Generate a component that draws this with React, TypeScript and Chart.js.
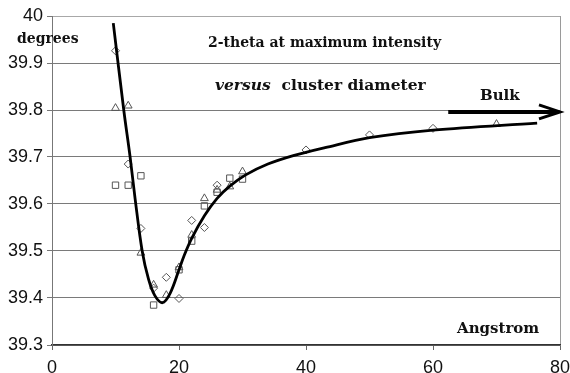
import React, { useEffect, useRef } from "react";
import { Chart, registerables } from "chart.js";

Chart.register(...registerables);

// Fitted curve
const curveX = [9.65, 11.3, 12.3, 13.1, 14.2, 15.2, 16.2, 17.4, 18.6, 20.0, 20.8, 22.0, 24.0, 26.0, 28.0, 30.5, 34.0, 38.0, 43.0, 50, 60, 76.4];
const curveY = [39.985, 39.8, 39.7, 39.61, 39.5, 39.44, 39.405, 39.39, 39.41, 39.46, 39.49, 39.527, 39.575, 39.612, 39.638, 39.662, 39.685, 39.703, 39.72, 39.741, 39.757, 39.772];

// Diamond markers
const diamondX = [10, 12, 14, 16, 18, 20, 22, 24, 26, 40, 50, 60];
const diamondY = [39.926, 39.685, 39.548, 39.421, 39.444, 39.399, 39.565, 39.55, 39.64, 39.715, 39.747, 39.761];

// Triangle markers
const triangleX = [10, 12, 14, 16, 18, 20, 22, 24, 26, 28, 30, 70];
const triangleY = [39.804, 39.809, 39.496, 39.428, 39.406, 39.465, 39.534, 39.612, 39.63, 39.637, 39.669, 39.77];

// Square markers
const squareX = [10, 12, 14, 16, 20, 22, 24, 26, 28, 30];
const squareY = [39.64, 39.64, 39.66, 39.385, 39.46, 39.521, 39.596, 39.625, 39.655, 39.653];

// Bulk arrow (data coordinates)
const bulkArrowX = [62.4, 80.0];
const bulkArrowY = 39.796;

const xTicks = [0, 20, 40, 60, 80];
const yTicks = [39.3, 39.4, 39.5, 39.6, 39.7, 39.8, 39.9, 40];

const toPts = (xs: number[], ys: number[]) => xs.map((x, i) => ({ x, y: ys[i] }));

const arrowPlugin = {
  id: "bulkArrow",
  afterDatasetsDraw(chart: any) {
    const xs = chart.scales.x;
    const ys = chart.scales.y;
    const ctx = chart.ctx;
    const x0 = xs.getPixelForValue(bulkArrowX[0]);
    const x1 = xs.getPixelForValue(bulkArrowX[1]);
    const y = ys.getPixelForValue(bulkArrowY);
    ctx.save();
    ctx.strokeStyle = "#000";
    ctx.lineWidth = 4;
    ctx.beginPath();
    ctx.moveTo(x0, y);
    ctx.lineTo(x1 - 2, y);
    ctx.stroke();
    ctx.lineWidth = 3;
    ctx.lineJoin = "miter";
    ctx.beginPath();
    ctx.moveTo(x1 - 21, y - 7);
    ctx.lineTo(x1, y);
    ctx.lineTo(x1 - 21, y + 7);
    ctx.stroke();
    ctx.restore();
  },
};

const fmt = (v: number) => String(Number(v.toFixed(1)));

export default function App() {
  const ref = useRef<HTMLCanvasElement | null>(null);
  useEffect(() => {
    document.body.style.margin = "0";
    const marker = "#555";
    const chart = new Chart(ref.current as HTMLCanvasElement, {
      type: "scatter",
      data: {
        datasets: [
          {
            data: toPts(curveX, curveY),
            showLine: true,
            borderColor: "#000",
            borderWidth: 2.8,
            pointRadius: 0,
            tension: 0.35,
            fill: false,
          } as any,
          {
            data: toPts(diamondX, diamondY),
            pointStyle: "rectRot",
            pointRadius: 4,
            borderColor: marker,
            backgroundColor: "rgba(0,0,0,0)",
            borderWidth: 1,
          },
          {
            data: toPts(triangleX, triangleY),
            pointStyle: "triangle",
            pointRadius: 4.5,
            borderColor: marker,
            backgroundColor: "rgba(0,0,0,0)",
            borderWidth: 1,
          },
          {
            data: toPts(squareX, squareY),
            pointStyle: "rect",
            pointRadius: 4.5,
            borderColor: marker,
            backgroundColor: "rgba(0,0,0,0)",
            borderWidth: 1,
          },
        ],
      },
      options: {
        animation: false,
        responsive: false,
        events: [],
        layout: { padding: { top: 16, right: 10, left: 0, bottom: 0 } },
        plugins: { legend: { display: false }, tooltip: { enabled: false } },
        scales: {
          x: {
            type: "linear",
            min: 0,
            max: 80,
            afterBuildTicks: (s: any) => {
              s.ticks = xTicks.map((v) => ({ value: v }));
            },
            afterFit: (s: any) => {
              s.height = 28;
              s.paddingLeft = 0;
              s.paddingRight = 0;
            },
            ticks: {
              color: "#111",
              padding: 7,
              font: { family: "Liberation Sans", size: 18 },
              callback: (v: any) => fmt(Number(v)),
            },
            grid: {
              drawOnChartArea: true,
              color: (c: any) => (c.tick && c.tick.value === 80 ? "#9a9a9a" : "rgba(0,0,0,0)"),
              tickColor: "#666",
              tickLength: 5,
              lineWidth: 1,
            },
            border: { color: "#333", width: 1.5 },
          },
          y: {
            type: "linear",
            min: 39.3,
            max: 40,
            afterBuildTicks: (s: any) => {
              s.ticks = yTicks.map((v) => ({ value: v }));
            },
            afterFit: (s: any) => {
              s.width = 52;
              s.paddingTop = 0;
              s.paddingBottom = 0;
            },
            ticks: {
              color: "#111",
              padding: 4,
              font: { family: "Liberation Sans", size: 18 },
              callback: (v: any) => fmt(Number(v)),
            },
            grid: {
              color: (c: any) => (c.tick && c.tick.value === 40 ? "#a8a8a8" : "#7a7a7a"),
              tickColor: "#777",
              tickLength: 5,
              lineWidth: 1,
            },
            border: { color: "#777", width: 1 },
          },
        },
      },
      plugins: [arrowPlugin],
    });
    return () => chart.destroy();
  }, []);

  const serif = "'DejaVu Serif', serif";
  const label = (extra: React.CSSProperties): React.CSSProperties => ({
    position: "absolute",
    fontFamily: serif,
    fontWeight: "bold",
    color: "#111",
    lineHeight: "20px",
    whiteSpace: "nowrap",
    ...extra,
  });

  return (
    <div style={{ position: "fixed", left: 0, top: 0, width: 570, height: 373, background: "#fff" }}>
      <canvas ref={ref} width={570} height={373} style={{ position: "absolute", left: 0, top: 0 }} />
      <div style={label({ left: 17, top: 28, fontSize: 14 })}>degrees</div>
      <div style={label({ left: 208, top: 32, fontSize: 14 })}>2-theta at maximum intensity</div>
      <div style={label({ left: 215, top: 75, fontSize: 15.5 })}>
        <span style={{ fontStyle: "italic" }}>versus</span>&nbsp; cluster diameter
      </div>
      <div style={label({ left: 480, top: 85, fontSize: 15 })}>Bulk</div>
      <div style={label({ left: 457, top: 318, fontSize: 15 })}>Angstrom</div>
    </div>
  );
}
